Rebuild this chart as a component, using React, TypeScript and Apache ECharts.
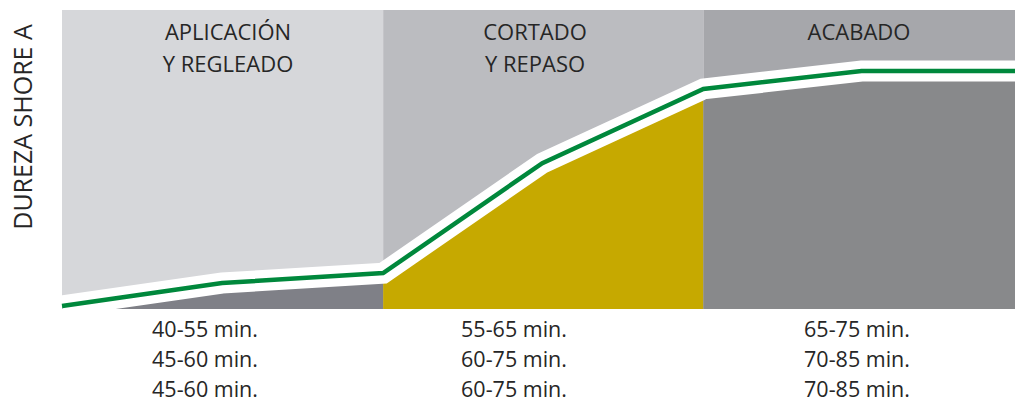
import React, { useEffect, useRef } from "react";
import * as echarts from "echarts";

// Phase boundaries along the (unitless) time axis, 0..100
const bandEdges = [0, 33.7, 67.3, 100];
// Hardness curve (Shore A, relative 0..100)
const curveX = [0, 16.8, 33.7, 50.4, 67.3, 83.9, 100];
const curveY = [1.0, 8.7, 12.0, 48.8, 73.6, 79.6, 79.6];
const bandTop = [100, 100, 100];
const bandNames = ["APLICACIÓN\nY REGLEADO", "CORTADO\nY REPASO", "ACABADO"];
const timeRows = [
  ["40-55 min.", "45-60 min.", "45-60 min."],
  ["55-65 min.", "60-75 min.", "60-75 min."],
  ["65-75 min.", "70-85 min.", "70-85 min."],
];
const axisTitle = "DUREZA SHORE A";

const topColors = ["#d6d7da", "#bbbcc0", "#a6a7ab"];
const fillColors = ["#7f8087", "#c6a900", "#88898b"];
const bandLabelX = [228, 535, 859];
const timeLabelX = [205, 514, 857];
const FONT = '"Open Sans", "Noto Sans", sans-serif';

export default function App() {
  const ref = useRef<HTMLDivElement>(null);
  useEffect(() => {
    if (!ref.current) return;
    const chart = echarts.init(ref.current, undefined, { renderer: "svg" });
    const curve = curveX.map((x, i) => [x, curveY[i]]);
    const series: any[] = [];
    for (let b = 0; b < 3; b++) {
      series.push({
        type: "line",
        z: 1,
        silent: true,
        symbol: "none",
        lineStyle: { width: 0 },
        areaStyle: { color: topColors[b], opacity: 1 },
        data: [
          [bandEdges[b], bandTop[b]],
          [bandEdges[b + 1], bandTop[b]],
        ],
      });
    }
    for (let b = 0; b < 3; b++) {
      const pts = curve.filter((p) => p[0] >= bandEdges[b] - 1e-6 && p[0] <= bandEdges[b + 1] + 1e-6);
      series.push({
        type: "line",
        z: 2,
        silent: true,
        symbol: "none",
        lineStyle: { width: 0 },
        areaStyle: { color: fillColors[b], opacity: 1 },
        data: pts,
      });
    }
    series.push({
      type: "line",
      z: 3,
      silent: true,
      symbol: "none",
      lineStyle: { width: 21, color: "#ffffff", join: "miter" },
      data: curve,
    });
    series.push({
      type: "line",
      z: 4,
      silent: true,
      symbol: "none",
      lineStyle: { width: 4.5, color: "#00883c", join: "miter" },
      data: curve,
    });

    const graphics: any[] = [];
    bandNames.forEach((name, i) => {
      graphics.push({
        type: "text",
        z: 10,
        x: bandLabelX[i],
        y: 15,
        style: {
          text: name,
          font: `22px ${FONT}`,
          fill: "#262626",
          textAlign: "center",
          textVerticalAlign: "top",
          lineHeight: 32,
        },
      });
    });
    timeRows.forEach((rows, i) => {
      rows.forEach((t, r) => {
        graphics.push({
          type: "text",
          z: 10,
          x: timeLabelX[i],
          y: 328 + r * 30,
          style: {
            text: t,
            font: `21.5px ${FONT}`,
            fill: "#262626",
            textAlign: "center",
            textVerticalAlign: "middle",
            lineHeight: 22,
          },
        });
      });
    });
    graphics.push({
      type: "text",
      z: 10,
      x: 22,
      y: 127,
      rotation: Math.PI / 2,
      style: {
        text: axisTitle,
        font: `25px ${FONT}`,
        fill: "#262626",
        textAlign: "center",
        textVerticalAlign: "middle",
      },
    });

    chart.setOption({
      animation: false,
      grid: { left: 62, right: 0, top: 10, bottom: 94 },
      xAxis: {
        type: "value",
        min: 0,
        max: 100,
        show: false,
      },
      yAxis: {
        type: "value",
        min: 0,
        max: 100,
        show: false,
      },
      series,
      graphic: graphics,
    });
    return () => chart.dispose();
  }, []);
  return (
    <div
      ref={ref}
      style={{ position: "fixed", left: 0, top: 0, width: 1015, height: 403, background: "#ffffff" }}
    />
  );
}
